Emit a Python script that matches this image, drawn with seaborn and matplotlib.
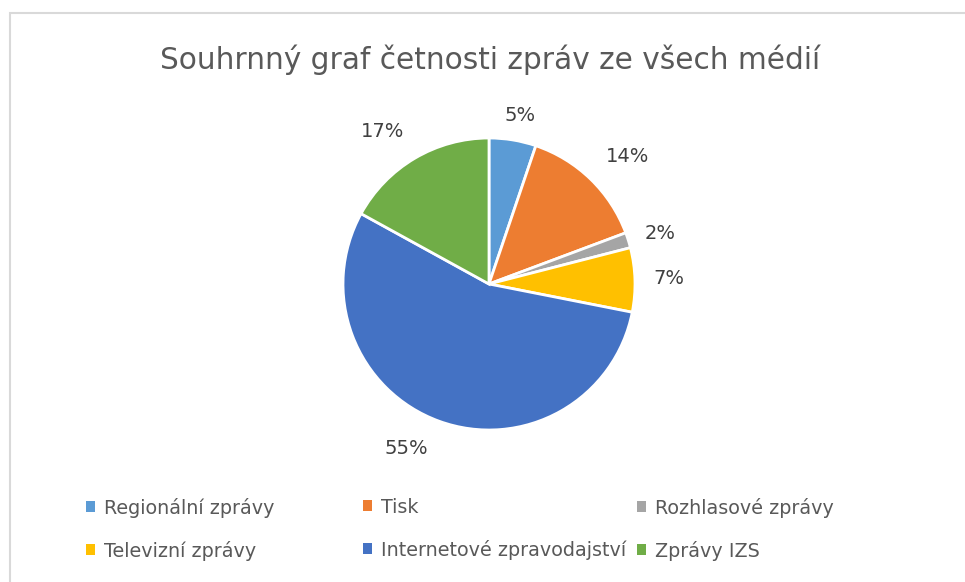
import matplotlib
matplotlib.use("Agg")
import matplotlib.pyplot as plt
import matplotlib.patches as mpatches
import numpy as np
import seaborn as sns

# Data
categories = ["Regionální zprávy", "Tisk", "Rozhlasové zprávy",
              "Televizní zprávy", "Internetové zpravodajství", "Zprávy IZS"]
shares = [5.2, 14.1, 1.7, 7.1, 54.9, 17.0]
colors = ["#5B9BD5", "#ED7D31", "#A5A5A5", "#FFC000", "#4472C4", "#70AD47"]
title = "Souhrnný graf četnosti zpráv ze všech médií"

# placement of each % label (Excel "best fit" look): radius and angle shift
label_dist = [1.17, 1.29, 1.22, 1.23, 1.26, 1.27]
label_shift = [-1.0, -3.3, -0.9, 0.0, -6.8, 4.3]

sns.set_theme(style="white")
plt.rcParams['font.family'] = ['DejaVu Sans']

W, H = 965, 582
fig = plt.figure(figsize=(W / 100, H / 100), dpi=100)
fig.patch.set_facecolor("white")

# chart frame (cut off at right and bottom like the screenshot)
frame = mpatches.Rectangle((9.5 / W, -0.1), 1.2, 1.1 - 12.5 / H, transform=fig.transFigure,
                           fill=False, edgecolor="#D9D9D9", linewidth=1.5)
fig.add_artist(frame)

fig.text(490 / W, 1 - 60 / H, title, ha="center", va="center",
         fontsize=21.3, color="#595959")

# pie
cx, cy, r = 489, 284, 146
ax = fig.add_axes([(cx - r) / W, (H - cy - r) / H, 2 * r / W, 2 * r / H])
wedges, texts, autotexts = ax.pie(
    shares, colors=colors, startangle=90, counterclock=False,
    autopct='%1.0f%%', pctdistance=1.24,
    wedgeprops=dict(edgecolor="white", linewidth=2),
    textprops=dict(fontsize=14, color="#404040"))
for w, t, d, s in zip(wedges, autotexts, label_dist, label_shift):
    ang = np.deg2rad((w.theta1 + w.theta2) / 2 + s)
    t.set_position((d * np.cos(ang), d * np.sin(ang)))
ax.set_xlim(-1, 1)
ax.set_ylim(-1, 1)
ax.set_axis_off()

# legend, three columns placed like the Excel grid
handles = [mpatches.Patch(facecolor=c, edgecolor="none") for c in colors]
col_x = [78, 355, 629]
for i, x in enumerate(col_x):
    idx = [i, i + 3]
    fig.legend([handles[j] for j in idx], [categories[j] for j in idx],
               loc="upper left", bbox_to_anchor=(x / W, 1 - 490 / H),
               frameon=False, fontsize=13.8, handlelength=0.5, handleheight=0.5,
               handletextpad=0.45, labelspacing=1.2, labelcolor="#595959",
               borderaxespad=0)

fig.savefig("out.png", dpi=100)
